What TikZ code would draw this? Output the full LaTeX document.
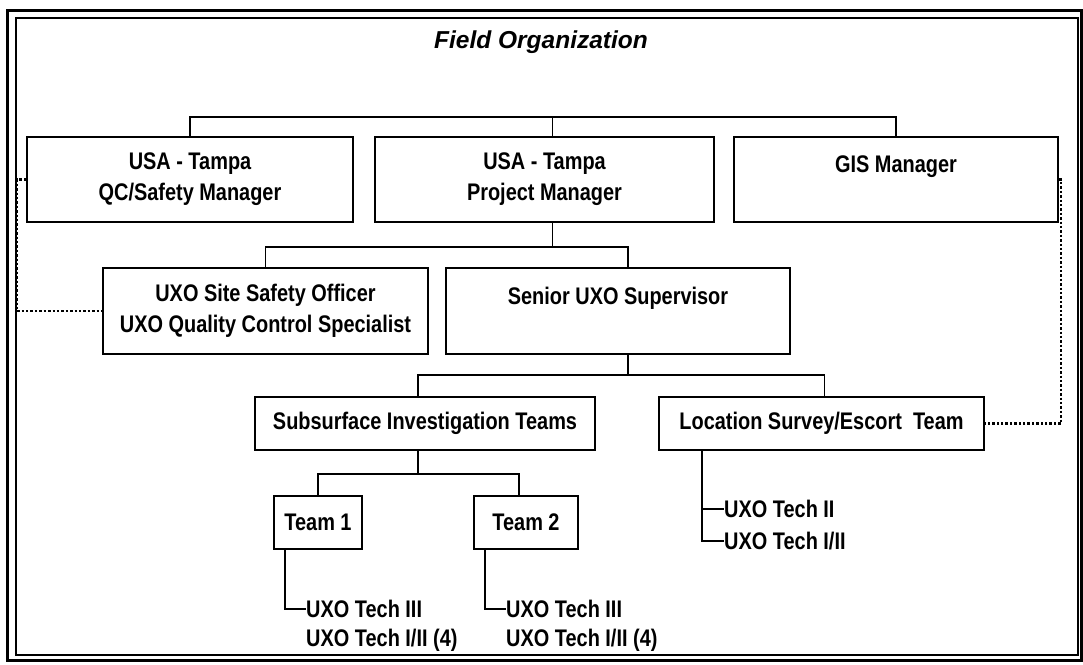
\documentclass[tikz,border=0pt]{standalone}
\usepackage{fontspec}
\setmainfont{Liberation Sans}[FakeStretch=0.83]
\newfontfamily\titlefont{Liberation Sans}
\usetikzlibrary{positioning}

\tikzset{
  orgbox/.style={draw, line width=2pt, align=center, inner sep=0pt,
    font=\bfseries\fontsize{24}{31}\selectfont},
  techtxt/.style={anchor=west, inner sep=0pt, font=\bfseries\fontsize{24}{31}\selectfont},
  link/.style={line width=1.6pt},
  dotlink/.style={line width=2.2pt, dash pattern=on 2.4pt off 2pt}
}

\begin{document}
\begin{tikzpicture}[x=1pt, y=-1pt]

    \useasboundingbox (0,0) rectangle (1083,664);

    % Frame
    \draw[line width=3pt] (7,10) rectangle (1081,660);
    \draw[line width=1.2pt] (16,18) rectangle (1078,655);

    \node[font=\titlefont\bfseries\itshape\fontsize{24.5}{30}\selectfont] (title) at (541,42) {Field Organization};

    % Top row
    \node[orgbox, minimum width=326pt, minimum height=85pt] (qcmgr) at (190,179.5) {USA - Tampa\\QC/Safety Manager};
    \node[orgbox, minimum width=339pt, minimum height=85pt] (pm) at (544.5,179.5) {USA - Tampa\\Project Manager};
    \node[orgbox, minimum width=324pt, minimum height=85pt] (gis) at (896,179.5) {GIS Manager\\ \mbox{}};

    % Second row
    \node[orgbox, minimum width=325pt, minimum height=86pt] (sso) at (265.5,311) {UXO Site Safety Officer\\UXO Quality Control Specialist};
    \node[orgbox, minimum width=344pt, minimum height=86pt] (sup) at (618,311) {Senior UXO Supervisor\\ \mbox{}};

    % Teams
    \node[orgbox, minimum width=340pt, minimum height=53pt] (subs) at (425,423.5) {Subsurface Investigation Teams};
    \node[orgbox, minimum width=325pt, minimum height=53pt] (locteam) at (821.5,423.5) {Location Survey/Escort\ \ Team};
    \node[orgbox, minimum width=88pt, minimum height=53pt] (team1) at (318,522.5) {Team 1};
    \node[orgbox, minimum width=104pt, minimum height=53pt] (team2) at (526,522.5) {Team 2};

    % Technicians
    \node[techtxt] (techa) at (306,609) {UXO Tech III};
    \node[techtxt] (techb) at (306,640) {UXO Tech I/II (4)};
    \node[techtxt] (techc) at (506,609) {UXO Tech III};
    \node[techtxt] (techd) at (506,640) {UXO Tech I/II (4)};
    \node[techtxt] (teche) at (724,509) {UXO Tech II};
    \node[techtxt] (techf) at (724,541) {UXO Tech I/II};

    % Bus levels
    \coordinate (bus1) at (0,117);
    \coordinate (bus2) at (0,247);
    \coordinate (bus3) at (0,375);
    \coordinate (bus4) at (0,474);
    \coordinate (edgeL) at (17,0);
    \coordinate (edgeR) at (1061,0);

    % Connectors
    \draw[link] (qcmgr.north) |- (bus1 -| gis.north) -- (gis.north);
    \draw[link] ([xshift=8pt]pm.north) -- ([xshift=8pt]pm.north |- bus1);
    \draw[link] ([xshift=8pt]pm.south) -- ([xshift=8pt]pm.south |- bus2);
    \draw[link] (sso.north) |- ([xshift=10pt]bus2 -| sup.north) -- ([xshift=10pt]sup.north);
    \draw[link] ([xshift=10pt]sup.south) -- ([xshift=10pt]sup.south |- bus3);
    \draw[link] ([xshift=-7pt]subs.north) |- ([xshift=3pt]bus3 -| locteam.north) -- ([xshift=3pt]locteam.north);
    \draw[link] ([xshift=-7pt]subs.south) -- ([xshift=-7pt]subs.south |- bus4);
    \draw[link] (team1.north) |- ([xshift=-7pt]bus4 -| team2.north) -- ([xshift=-7pt]team2.north);
    \draw[link] ([xshift=12pt]team1.south west) |- (techa.west);
    \draw[link] ([xshift=12pt]team2.south west) |- (techc.west);
    \draw[link] ([xshift=44pt]locteam.south west) |- (techf.west);
    \draw[link] ([xshift=44pt]locteam.south west |- teche.west) -- (teche.west);

    % Dotted links
    \draw[dotlink] (qcmgr.west) -- (qcmgr.west -| edgeL) |- (sso.west);
    \draw[dotlink] (gis.east) -- (gis.east -| edgeR) |- (locteam.east);

\end{tikzpicture}
\end{document}
